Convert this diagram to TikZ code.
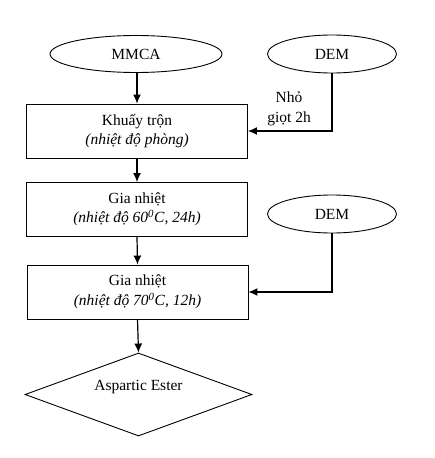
\documentclass[tikz,border=0pt]{standalone}
\usepackage{fontspec}
\setmainfont{Liberation Serif}
\usetikzlibrary{shapes.geometric,arrows.meta}
\begin{document}
\begin{tikzpicture}[x=1pt,y=-1pt,
  every node/.style={font=\fontsize{15.5}{19.5}\selectfont},
  oval/.style={draw,line width=0.9pt,ellipse,minimum width=172pt,minimum height=37pt,inner sep=0pt},
  oval2/.style={draw,line width=0.9pt,ellipse,minimum width=129pt,minimum height=38pt,inner sep=0pt},
  stepbox/.style={draw,line width=0.9pt,minimum width=221pt,minimum height=54pt,inner sep=0pt,align=center},
  prodbox/.style={draw,line width=0.9pt,diamond,minimum width=227pt,minimum height=83pt,inner sep=0pt,aspect=2.7},
  conn/.style={line width=1.2pt,-{Latex[length=9pt,width=8pt]}}]
\useasboundingbox (0,0) rectangle (435,458);
\node[oval] (mmca) at (136,54) {MMCA};
\node[oval2] (dem1) at (332,54) {DEM};
\node[stepbox] (b1) at (137,131) {Khuấy trộn\\\textit{(nhiệt độ phòng)}};
\node[stepbox] (b2) at (137,209.5) {Gia nhiệt\\\textit{(nhiệt độ 60\textsuperscript{0}C, 24h)}};
\node[oval2] (dem2) at (332,214) {DEM};
\node[stepbox] (b3) at (137.5,292) {Gia nhiệt\\\textit{(nhiệt độ 70\textsuperscript{0}C, 12h)}};
\node[draw,line width=0.9pt,diamond,minimum width=227pt,minimum height=83pt,inner sep=0pt] (ae) at (138.5,394.5) {};
\node (aet) at (138.5,387) {Aspartic Ester};
\node[align=center] (lbl) at (289,109) {Nhỏ\\giọt 2h};
\draw[conn] (mmca.south -| b1.north) -- (b1.north);
\draw[conn] (dem1.south) |- (b1.east);
\draw[conn] (b1.south) -- (b2.north);
\draw[conn] (b2.south) -- (b3.north);
\draw[conn] (dem2.south) |- (b3.east);
\draw[conn] (b3.south) -- (ae.north);
\end{tikzpicture}
\end{document}
